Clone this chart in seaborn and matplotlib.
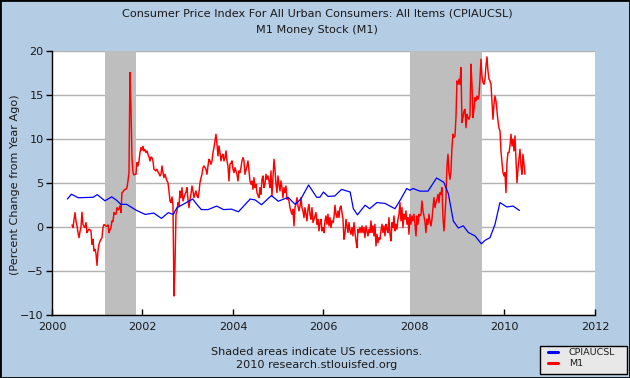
import numpy as np
import pandas as pd
import matplotlib
matplotlib.use("Agg")
import matplotlib.pyplot as plt
from matplotlib.patches import Rectangle
from matplotlib.lines import Line2D
import seaborn as sns

# CPI (CPIAUCSL), percent change from year ago
cpi_years = [2000.34, 2000.43, 2000.58, 2000.91, 2001.0, 2001.17, 2001.32, 2001.43,
             2001.52, 2001.65, 2001.87, 2002.06, 2002.25, 2002.42, 2002.57, 2002.68,
             2002.76, 2002.9, 2003.11, 2003.2, 2003.3, 2003.45, 2003.64, 2003.79,
             2003.97, 2004.12, 2004.38, 2004.49, 2004.63, 2004.85, 2005.0, 2005.22,
             2005.37, 2005.5, 2005.67, 2005.85, 2005.92, 2006.0, 2006.1, 2006.25,
             2006.4, 2006.59, 2006.66, 2006.75, 2006.92, 2007.02, 2007.18, 2007.36,
             2007.58, 2007.71, 2007.84, 2007.91, 2007.98, 2008.13, 2008.31, 2008.5,
             2008.66, 2008.76, 2008.87, 2008.98, 2009.09, 2009.2, 2009.35, 2009.49,
             2009.57, 2009.68, 2009.79, 2009.9, 2010.05, 2010.19, 2010.33]
cpi_values = [3.2, 3.75, 3.35, 3.4, 3.7, 3.0, 3.45, 3.05,
              2.6, 2.6, 1.9, 1.45, 1.6, 1.0, 1.65, 1.45,
              2.2, 2.6, 3.2, 2.6, 2.0, 2.0, 2.4, 2.0,
              2.05, 1.75, 3.2, 3.1, 2.55, 3.6, 2.95, 3.4,
              2.6, 3.2, 4.8, 3.4, 3.4, 4.0, 3.5, 3.55,
              4.3, 4.0, 2.1, 1.4, 2.5, 2.1, 2.8, 2.7,
              2.1, 3.2, 4.4, 4.2, 4.4, 4.1, 4.1, 5.6,
              5.1, 3.8, 0.7, -0.1, 0.15, -0.6, -1.0, -1.9,
              -1.5, -1.2, 0.3, 2.8, 2.3, 2.4, 1.9]

# M1, weekly, percent change from year ago (mid-2000 to mid-2010)
m1_first, m1_last = 2000.442, 2010.453
m1_values = [
    0.25, -0.05, 0.8, 1.65, 0.7, 0.15, -0.6, -1.2, -0.5, 0.0,
    1.7, 0.3, 0.1, -0.05, 0.52, -0.62, -0.4, -0.24, -0.3, -0.43,
    -1.95, -1.38, -2.7, -2.52, -3.0, -4.35, -2.7, -1.95, -1.6, -1.38,
    -1.2, -0.05, 0.3, 0.25, 0.1, 0.1, 0.25, -0.62, -0.3, -0.05,
    0.71, 0.63, 1.66, 1.5, 1.47, 2.22, 1.96, 2.1, 2.41, 1.66,
    3.93, 4.0, 4.2, 4.3, 4.31, 4.5, 5.26, 6.21, 17.6, 13.6,
    7.92, 6.21, 5.94, 6.02, 6.02, 7.35, 6.97, 7.54, 8.49, 9.06,
    8.75, 9.21, 8.68, 8.83, 8.49, 8.68, 8.3, 7.99, 7.54, 7.99,
    7.92, 7.54, 6.59, 6.5, 6.4, 6.59, 6.3, 6.09, 5.83, 6.02,
    6.97, 6.21, 5.64, 6.02, 5.6, 5.26, 5.07, 4.12, 2.98, 2.79,
    3.44, 2.53, -7.84, -4.42, 1.47, 1.85, 2.79, 2.41, 4.12, 3.36,
    4.5, 2.98, 3.36, 3.74, 4.0, 4.5, 3.17, 2.22, 3.17, 3.74,
    4.69, 4.12, 3.36, 3.8, 4.12, 3.55, 3.36, 3.93, 5.07, 5.6,
    6.02, 6.78, 6.97, 6.8, 6.59, 6.02, 6.97, 7.73, 7.54, 7.16,
    7.54, 8.49, 9.06, 9.82, 10.58, 9.44, 8.11, 9.25, 8.49, 7.54,
    8.11, 8.3, 7.54, 7.92, 8.68, 7.54, 6.97, 5.26, 7.16, 7.3,
    7.54, 6.59, 6.21, 6.78, 6.4, 6.02, 5.26, 6.4, 6.21, 6.78,
    7.54, 7.92, 7.54, 6.02, 6.5, 6.97, 7.54, 6.4, 5.26, 4.88,
    5.26, 4.31, 5.64, 4.5, 4.88, 3.93, 3.6, 3.36, 4.5, 3.74,
    5.45, 5.83, 4.5, 4.88, 6.02, 5.45, 5.83, 5.26, 4.5, 6.4,
    3.55, 5.64, 7.73, 6.59, 4.88, 3.93, 5.83, 4.88, 4.12, 5.26,
    4.5, 3.36, 4.5, 3.93, 4.69, 3.17, 3.36, 2.98, 2.22, 1.8,
    1.47, 2.03, 0.14, 2.22, 2.6, 3.36, 2.41, 1.85, 2.41, 3.36,
    2.22, 1.85, 1.09, 2.22, 1.47, 0.71, 2.03, 2.6, 1.47, 0.9,
    2.22, 0.52, 0.9, 1.28, 1.66, 0.33, 0.9, -0.43, 0.52, 0.9,
    -0.43, -0.05, -0.62, 0.71, 1.28, 0.33, 1.47, 0.14, 1.09, -0.05,
    0.71, 0.52, 1.09, 2.5, 1.47, 1.09, 1.85, 1.09, 2.22, 2.41,
    1.66, 0.9, -1.38, -0.81, 0.9, 0.14, -0.62, 0.52, -0.43, -0.81,
    -0.05, -1.0, 0.52, -0.62, -1.57, -2.33, -0.24, -0.62, -0.05, -0.62,
    0.14, -0.62, -0.05, -1.19, 0.14, -0.43, -1.0, -0.24, -0.62, 0.71,
    -0.62, 0.14, -1.0, 0.33, -2.14, -0.81, -1.76, -1.19, -1.38, -0.43,
    0.33, -0.62, 0.14, -1.0, 0.33, -0.24, -0.62, 1.09, -0.81, -1.57,
    0.52, -0.05, 1.28, -0.43, 0.33, -0.24, 0.9, 1.47, 2.79, 0.71,
    2.22, -0.05, 1.47, 0.9, 1.85, 0.33, 1.09, -0.81, 1.47, 0.33,
    1.28, 0.71, 1.47, 0.33, -1.0, 1.28, 0.33, 1.47, 1.28, 1.47,
    2.98, 1.85, 1.28, 0.6, -0.62, 0.9, 0.33, 1.47, 0.71, 0.14,
    0.9, 2.22, 3.36, 2.22, 2.79, 3.17, 3.74, 2.79, 3.93, 3.74,
    4.5, 1.09, -0.43, 1.28, 3.36, 6.97, 8.3, 6.21, 5.45, 6.4,
    9.06, 10.58, 10.2, 10.39, 12.47, 16.65, 16.27, 16.84, 16.27, 18.17,
    11.91, 12.47, 13.23, 13.42, 11.33, 12.85, 12.47, 12.28, 12.66, 18.55,
    16.27, 12.47, 13.42, 14.75, 14.37, 14.94, 14.56, 14.94, 16.84, 19.12,
    17.2, 16.46, 16.27, 16.84, 18.36, 19.39, 17.79, 16.84, 16.65, 16.27,
    14.18, 12.28, 13.99, 14.94, 14.37, 13.23, 12.09, 11.3, 10.95, 8.68,
    7.35, 6.21, 5.83, 6.21, 3.93, 7.35, 8.49, 8.49, 9.25, 10.58,
    9.25, 10.01, 8.68, 10.39, 7.73, 5.07, 6.59, 7.73, 8.87, 6.97,
    6.02, 8.3, 7.16, 6.02,
]

# US recessions (start, end) in decimal years
recessions = [(2001.167, 2001.85), (2007.91, 2009.5)]

series_names = ["CPIAUCSL", "M1"]
title_lines = ["Consumer Price Index For All Urban Consumers: All Items (CPIAUCSL)",
               "M1 Money Stock (M1)"]

cpi_df = pd.DataFrame({"year": cpi_years, "pct": cpi_values})
m1_df = pd.DataFrame({"year": np.linspace(m1_first, m1_last, len(m1_values)),
                      "pct": m1_values})

bg = "#B4CCE4"
fs = 8.1
txt = "#1A1A1A"

sns.set_theme(style="white")
plt.rcParams["font.family"] = ["DejaVu Sans"]

fig = plt.figure(figsize=(6.3, 3.78), dpi=100, facecolor=bg)
ax = fig.add_axes([0.0825, 0.1667, 0.8619, 0.6971])
ax.set_facecolor("white")

for start, end in recessions:
    ax.axvspan(start, end, color="#BEBEBE", lw=0, zorder=1)

sns.lineplot(data=cpi_df, x="year", y="pct", ax=ax, color="#0000FF",
             linewidth=0.9, estimator=None, zorder=3)
sns.lineplot(data=m1_df, x="year", y="pct", ax=ax, color="#FF0000",
             linewidth=1.05, estimator=None, zorder=2)

ax.set_xlim(2000, 2012)
ax.set_ylim(-10, 20)
ax.set_xticks(range(2000, 2013, 2))
ax.set_yticks(range(-10, 21, 5))
ax.set_xlabel("")
ax.set_ylabel("")

ax.set_axisbelow(True)
ax.yaxis.grid(True, color="#B2B2B2", lw=1.0)
ax.xaxis.grid(False)

for side in ["top", "right"]:
    ax.spines[side].set_visible(False)
for side in ["left", "bottom"]:
    ax.spines[side].set_color("black")
    ax.spines[side].set_linewidth(1.0)

ax.tick_params(axis="y", direction="out", length=4, width=1, color="black",
               labelsize=fs, labelcolor=txt, pad=2, left=True)
ax.tick_params(axis="x", direction="in", length=4, width=1, color="black",
               labelsize=fs, labelcolor=txt, pad=5, bottom=True)

fig.text(15 / 630, 1 - 185 / 378, "(Percent Change from Year Ago)", rotation=90,
         ha="center", va="center", fontsize=fs, color=txt)

fig.text(0.503, 1 - 14 / 378, title_lines[0], ha="center", va="center",
         fontsize=fs, color=txt)
fig.text(0.503, 1 - 30 / 378, title_lines[1], ha="center", va="center",
         fontsize=fs, color=txt)

fig.text(317 / 630, 1 - 352 / 378, "Shaded areas indicate US recessions.",
         ha="center", va="center", fontsize=fs, color=txt)
fig.text(317 / 630, 1 - 364.5 / 378, "2010 research.stlouisfed.org",
         ha="center", va="center", fontsize=fs, color=txt)

# legend box drawn as its own patch, entries placed inside it
fig.patches.append(Rectangle((540 / 630, 1 - 374 / 378), 87 / 630, 28 / 378,
                             transform=fig.transFigure, facecolor="#E8E8E8",
                             edgecolor="black", lw=1.0, zorder=1))
handles = [Line2D([], [], color="#0000FF", lw=2.2),
           Line2D([], [], color="#FF0000", lw=2.2)]
leg = fig.legend(handles, series_names, loc="center left",
                 bbox_to_anchor=(548 / 630, 1 - 358 / 378),
                 fontsize=6.8, frameon=False, handlelength=1.1,
                 handletextpad=1.1, borderpad=0, labelspacing=0.25,
                 borderaxespad=0)
leg.set_zorder(5)
for t in leg.get_texts():
    t.set_color(txt)

fig.patches.append(Rectangle((0, 0), 1, 1, transform=fig.transFigure,
                             fill=False, edgecolor="black", lw=2))

fig.savefig("out.png", dpi=100, facecolor=bg)
